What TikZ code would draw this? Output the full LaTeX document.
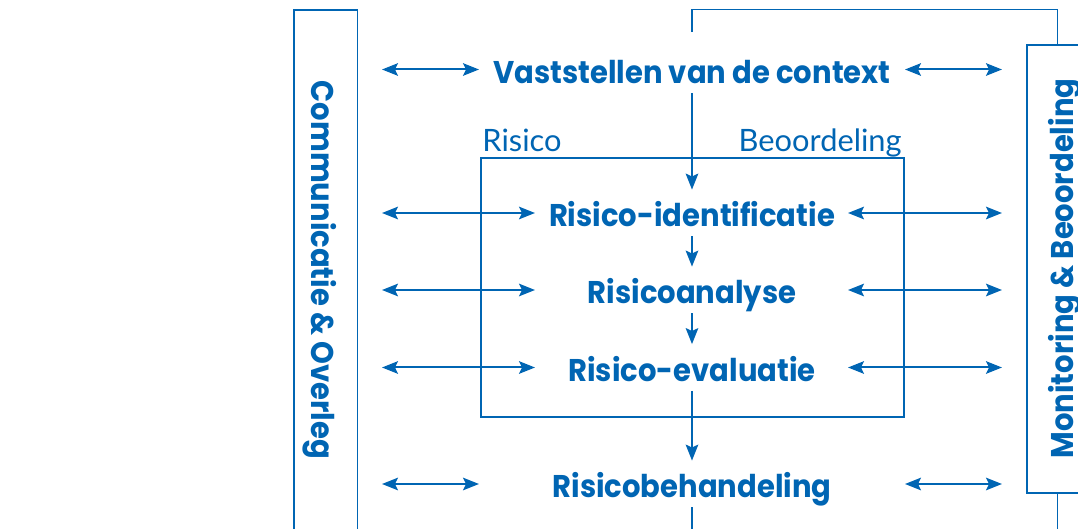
\documentclass[tikz,border=0pt]{standalone}
\usepackage{fontspec}
\setmainfont{Lato}
\newfontfamily\stepfont{Poppins}[FakeStretch=0.925]
\usetikzlibrary{arrows.meta}
\definecolor{riskblue}{RGB}{0,101,179}
\newcommand{\stepsize}{\fontsize{15.4}{18}\selectfont}
\newcommand{\popsize}{\fontsize{15.7}{18}\selectfont}

\begin{document}
\begin{tikzpicture}[x=0.5pt, y=-0.5pt,
  boxline/.style={draw=riskblue, line width=0.9pt},
  stepnode/.style={text=riskblue, font=\stepfont\popsize\bfseries, text height=14pt, text depth=0pt, inner xsep=0pt, inner ysep=4.5pt},
  sidetext/.style={text=riskblue, font=\stepfont\popsize\bfseries, text height=11pt, text depth=0pt, inner sep=0pt},
  boxlabel/.style={text=riskblue, font=\stepsize, inner sep=0pt},
  arr/.style={draw=riskblue, line width=1pt, -{Stealth[length=8pt,width=6.3pt,inset=1.5pt]}},
  biarr/.style={draw=riskblue, line width=1pt, {Stealth[length=8pt,width=6.3pt,inset=1.5pt]}-{Stealth[length=8pt,width=6.3pt,inset=1.5pt]}}]

\useasboundingbox (0,0) rectangle (1078,529);
\clip (0,0) rectangle (1078,529);

% side columns
\draw[boxline] (294,545) |- (357.5,10) -- (357.5,545);
\draw[boxline] (1100,45) -| (1027,493) -- (1100,493);
\node[sidetext, rotate=-90] (comm) at (322.5,270) {Communicatie \& Overleg};
\node[sidetext, rotate=90] (moni) at (1062,268.5) {Monitoring \& Beoordeling};
\coordinate (mtop) at (1057.5,45);
\coordinate (looptop) at (1057.5,9.5);
\coordinate (mbot) at (1057.5,493);
\coordinate (mend) at (1057.5,545);

% risico beoordeling box
\draw[boxline] (481,158) rectangle (904,417);
\node[boxlabel, anchor=base west] (risk) at (482,152) {Risico};
\node[boxlabel, anchor=base east] (beoord) at (902,152) {Beoordeling};

% steps
\node[stepnode] (ctx) at (692,69.5) {Vaststellen van de context};
\node[stepnode] (ident) at (692,213) {Risico-identificatie};
\node[stepnode] (anal) at (692,290) {Risicoanalyse};
\node[stepnode] (eval) at (692,367.5) {Risico-evaluatie};
\node[stepnode] (behand) at (692,484) {Risicobehandeling};
\coordinate (behend) at (692,545);

\draw[arr] (ctx) -- (ident);
\draw[arr] (ident) -- (anal);
\draw[arr] (anal) -- (eval);
\draw[arr] (eval) -- (behand);
\draw[boxline] (behand) -- (behend);
\draw[boxline, shorten <=7pt] (ctx.north) |- (looptop) -- (mtop);
\draw[boxline] (mbot) -- (mend);

% exchange arrows
\coordinate (lo) at (382,0);
\coordinate (li) at (479,0);
\coordinate (lr) at (535,0);
\coordinate (rr) at (848,0);
\coordinate (ri) at (905,0);
\coordinate (ro) at (1002,0);
\foreach \st in {ctx,behand}{
  \draw[biarr] (lo |- \st) -- (li |- \st);
  \draw[biarr] (ri |- \st) -- (ro |- \st);
}
\foreach \st in {ident,anal,eval}{
  \draw[biarr] (lo |- \st) -- (lr |- \st);
  \draw[biarr] (rr |- \st) -- (ro |- \st);
}

\end{tikzpicture}
\end{document}
